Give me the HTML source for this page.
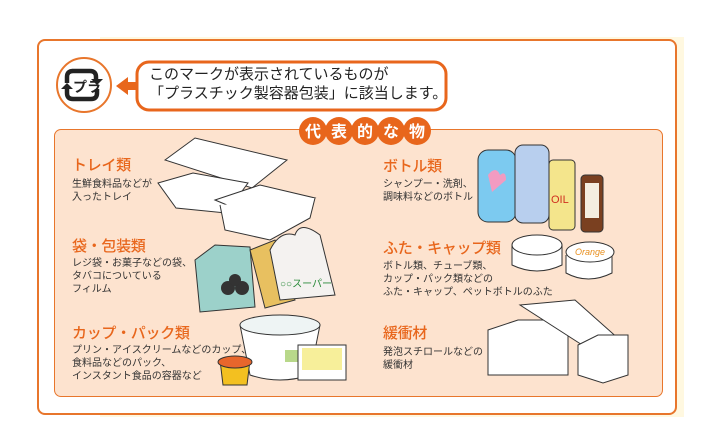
<!DOCTYPE html>
<html><head><meta charset="utf-8"><style>
body{margin:0;width:705px;height:436px;background:#fff;position:relative;overflow:hidden;font-family:"Liberation Sans","Noto Sans CJK JP",sans-serif;}
.a{position:absolute;white-space:nowrap}
.h{color:#e8661c;font-size:15px;font-weight:500;letter-spacing:-0.3px}
.d{color:#333;font-size:10px;line-height:13px;}
</style></head><body>
<div class="a" style="left:100px;top:37px;width:584px;height:380px;background:#fff8e0"></div>
<div class="a" style="left:37px;top:39px;width:636px;height:372px;border:2px solid #e8762c;border-radius:8px;background:#fff"></div>
<div class="a" style="left:54px;top:129px;width:607px;height:266px;border:1.5px solid #e8762c;border-radius:7px;background:#fde3cf"></div>
<svg class="a" style="left:0;top:0" width="705" height="436">
<circle cx="84" cy="85" r="27" fill="#fff" stroke="#e8762c" stroke-width="2"/>
<path d="M72 71 h18 q6 0 6 6 v4 M97 89 v4 q0 6 -6 6 h-18 q-6 0 -6 -6 v-4 M67 83 v-6 q0 -6 6 -6" stroke="#222" stroke-width="4.5" fill="none"/>
<path d="M91 79 l6 6 l6 -6z M61 89 l6 -6 l6 6z" fill="#222"/>
<text x="73" y="92" font-size="14" font-weight="bold" fill="#222" font-family="Liberation Sans,Noto Sans CJK JP,sans-serif">プラ</text>
<path d="M116 86 l12 -9 v5 h9 v8 h-9 v5z" fill="#e8661c"/>
<rect x="137" y="62" width="309" height="48" rx="12" fill="#fff" stroke="#e8661c" stroke-width="3"/>
<g fill="#e8661c"><circle cx="313" cy="131" r="14"/><circle cx="339" cy="131" r="14"/><circle cx="365" cy="131" r="14"/><circle cx="391" cy="131" r="14"/><circle cx="417" cy="131" r="14"/></g>
<g font-size="16" font-weight="bold" fill="#fff" text-anchor="middle" font-family="Liberation Sans,Noto Sans CJK JP,sans-serif">
<text x="313" y="137">代</text><text x="339" y="137">表</text><text x="365" y="137">的</text><text x="391" y="137">な</text><text x="417" y="137">物</text></g>
<g stroke="#333" stroke-width="1" fill="#fff">
<path d="M165 160 l30 -22 l92 22 l-35 28z"/><path d="M158 183 l35 -10 l55 10 l-22 30 l-50 -5z"/><path d="M215 200 l45 -15 l55 13 l-45 25z"/><path d="M220 205 l5 25 l45 10 l40 -22 l5 -20"/></g>
<path d="M195 260 l20 -15 l35 2 l5 60 l-55 5z" fill="#9cd1ca" stroke="#333"/>
<path d="M250 250 l25 -10 l20 60 l-30 8z" fill="#e8c060" stroke="#333"/>
<path d="M270 250 q10 -20 25 -15 q5 -15 25 0 l15 60 l-55 5z" fill="#f4f2f0" stroke="#333"/>
<circle cx="228" cy="288" r="7" fill="#333"/><circle cx="242" cy="288" r="7" fill="#333"/><circle cx="235" cy="280" r="6" fill="#333"/>
<text x="280" y="287" font-size="10" fill="#2a8a3a">○○スーパー</text>
<path d="M240 325 q40 -15 80 0 l-10 50 q-30 10 -60 0z" fill="#fff" stroke="#333"/>
<ellipse cx="280" cy="325" rx="40" ry="10" fill="#eef4f4" stroke="#333"/>
<rect x="285" y="350" width="18" height="12" fill="#b8d88a"/>
<path d="M298 345 h48 v35 h-48z" fill="#fff" stroke="#333"/><rect x="302" y="348" width="40" height="22" fill="#f7ef9a"/>
<path d="M220 360 h30 l-3 25 h-24z" fill="#f3c020" stroke="#333"/><ellipse cx="235" cy="362" rx="17" ry="6" fill="#e8662c" stroke="#333"/>
<rect x="478" y="150" width="38" height="72" rx="10" fill="#7ccaf0" stroke="#333"/><path d="M488 175 q8 -10 12 0 q6 -5 6 5 l-14 12z" fill="#f29bc1"/>
<rect x="515" y="145" width="34" height="78" rx="8" fill="#b8cfee" stroke="#333"/>
<rect x="549" y="160" width="26" height="70" rx="4" fill="#f4e58c" stroke="#333"/><text x="551" y="203" font-size="11" fill="#d03020">OIL</text>
<rect x="581" y="175" width="22" height="57" rx="4" fill="#7a4020" stroke="#333"/><rect x="585" y="183" width="14" height="35" fill="#f4eee0"/>
<path d="M512 245 v20 q25 12 50 0 v-20" fill="#fff" stroke="#333"/><ellipse cx="537" cy="245" rx="25" ry="10" fill="#fff" stroke="#333"/>
<path d="M566 255 v18 q22 12 46 0 v-18" fill="#fff" stroke="#333"/><ellipse cx="590" cy="252" rx="24" ry="10" fill="#fff" stroke="#333"/><text x="575" y="255" font-size="9" fill="#e89020" font-style="italic">Orange</text>
<path d="M488 330 l30 -10 l50 0 l0 55 l-80 0z" fill="#fff" stroke="#333"/>
<path d="M520 305 l55 -5 l45 40 l-30 10z" fill="#fff" stroke="#333"/>
<path d="M578 345 l20 -10 l30 0 l0 40 l-25 8 l-25 -8z" fill="#fff" stroke="#333"/>
</svg>
<div class="a" style="left:149px;top:65px;font-size:15px;line-height:19px;color:#222">このマークが表示されているものが<br>「プラスチック製容器包装」に該当します。</div>
<div class="a h" style="left:72px;top:154px">トレイ類</div>
<div class="a d" style="left:72px;top:178px">生鮮食料品などが<br>入ったトレイ</div>
<div class="a h" style="left:72px;top:235px">袋・包装類</div>
<div class="a d" style="left:72px;top:257px">レジ袋・お菓子などの袋、<br>タバコについている<br>フィルム</div>
<div class="a h" style="left:72px;top:322px">カップ・パック類</div>
<div class="a d" style="left:72px;top:344px">プリン・アイスクリームなどのカップ、<br>食料品などのパック、<br>インスタント食品の容器など</div>
<div class="a h" style="left:383px;top:155px">ボトル類</div>
<div class="a d" style="left:383px;top:178px">シャンプー・洗剤、<br>調味料などのボトル</div>
<div class="a h" style="left:383px;top:237px">ふた・キャップ類</div>
<div class="a d" style="left:383px;top:260px">ボトル類、チューブ類、<br>カップ・パック類などの<br>ふた・キャップ、ペットボトルのふた</div>
<div class="a h" style="left:383px;top:322px">緩衝材</div>
<div class="a d" style="left:383px;top:346px">発泡スチロールなどの<br>緩衝材</div>
</body></html>
